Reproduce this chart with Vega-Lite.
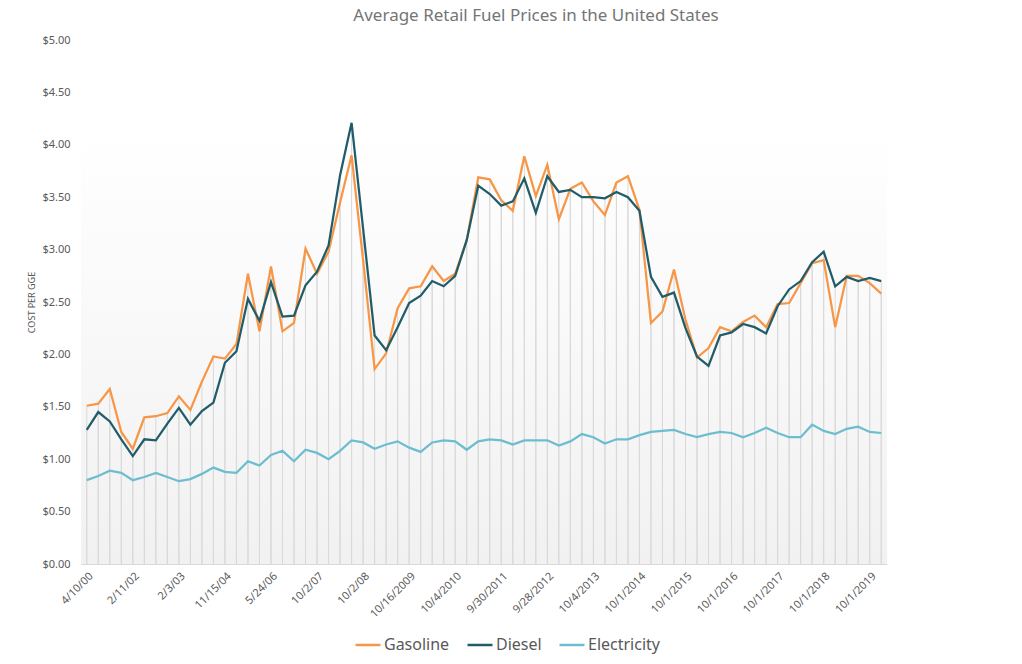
{
  "$schema": "https://vega.github.io/schema/vega-lite/v6.json",
  "width": 806,
  "height": 524,
  "autosize": {"type": "none"},
  "padding": {"left": 81, "top": 40, "right": 135, "bottom": 100},
  "background": "white",
  "config": {
    "view": {"stroke": null},
    "font": "Noto Sans",
    "axisX": {"domain": true, "domainColor": "#D9D9D9", "domainWidth": 1, "ticks": false, "grid": false, "labelAngle": -45, "labelFontSize": 11, "labelColor": "#595959", "labelPadding": 6, "labelAlign": "right", "labelBaseline": "top", "labelOverlap": false},
    "axisY": {"domain": false, "ticks": false, "tickSize": 0, "grid": false, "labelPadding": 11, "labelFontSize": 11, "labelColor": "#595959", "titleFontSize": 9, "titleFontWeight": "normal", "titleColor": "#595959", "titlePadding": 5}
  },
  "title": {"text": "Average Retail Fuel Prices in the United States", "fontSize": 17, "fontWeight": "normal", "color": "#757575", "anchor": "middle", "dx": 52, "offset": 9, "font": "Noto Sans"},
  "data": {"values": [
    {"date": "4/10/00", "Gasoline": 1.51, "Diesel": 1.28, "Electricity": 0.80},
    {"date": "7/24/00", "Gasoline": 1.53, "Diesel": 1.45, "Electricity": 0.84},
    {"date": "3/26/01", "Gasoline": 1.67, "Diesel": 1.36, "Electricity": 0.89},
    {"date": "9/24/01", "Gasoline": 1.26, "Diesel": 1.19, "Electricity": 0.87},
    {"date": "2/11/02", "Gasoline": 1.10, "Diesel": 1.03, "Electricity": 0.80},
    {"date": "5/6/02", "Gasoline": 1.40, "Diesel": 1.19, "Electricity": 0.83},
    {"date": "8/19/02", "Gasoline": 1.41, "Diesel": 1.18, "Electricity": 0.87},
    {"date": "11/4/02", "Gasoline": 1.44, "Diesel": 1.34, "Electricity": 0.83},
    {"date": "2/3/03", "Gasoline": 1.60, "Diesel": 1.49, "Electricity": 0.79},
    {"date": "6/2/03", "Gasoline": 1.47, "Diesel": 1.33, "Electricity": 0.81},
    {"date": "3/22/04", "Gasoline": 1.74, "Diesel": 1.46, "Electricity": 0.86},
    {"date": "7/12/04", "Gasoline": 1.98, "Diesel": 1.54, "Electricity": 0.92},
    {"date": "11/15/04", "Gasoline": 1.96, "Diesel": 1.92, "Electricity": 0.88},
    {"date": "3/1/05", "Gasoline": 2.10, "Diesel": 2.03, "Electricity": 0.87},
    {"date": "9/19/05", "Gasoline": 2.77, "Diesel": 2.53, "Electricity": 0.98},
    {"date": "2/6/06", "Gasoline": 2.22, "Diesel": 2.32, "Electricity": 0.94},
    {"date": "5/24/06", "Gasoline": 2.84, "Diesel": 2.69, "Electricity": 1.04},
    {"date": "9/11/06", "Gasoline": 2.22, "Diesel": 2.36, "Electricity": 1.08},
    {"date": "1/16/07", "Gasoline": 2.30, "Diesel": 2.37, "Electricity": 0.98},
    {"date": "7/10/07", "Gasoline": 3.01, "Diesel": 2.66, "Electricity": 1.09},
    {"date": "10/2/07", "Gasoline": 2.77, "Diesel": 2.79, "Electricity": 1.06},
    {"date": "1/7/08", "Gasoline": 2.98, "Diesel": 3.04, "Electricity": 1.00},
    {"date": "4/7/08", "Gasoline": 3.45, "Diesel": 3.71, "Electricity": 1.08},
    {"date": "7/7/08", "Gasoline": 3.90, "Diesel": 4.21, "Electricity": 1.18},
    {"date": "10/2/08", "Gasoline": 2.90, "Diesel": 3.20, "Electricity": 1.16},
    {"date": "1/5/09", "Gasoline": 1.86, "Diesel": 2.18, "Electricity": 1.10},
    {"date": "4/6/09", "Gasoline": 2.01, "Diesel": 2.04, "Electricity": 1.14},
    {"date": "7/6/09", "Gasoline": 2.44, "Diesel": 2.26, "Electricity": 1.17},
    {"date": "10/16/2009", "Gasoline": 2.63, "Diesel": 2.49, "Electricity": 1.11},
    {"date": "1/4/2010", "Gasoline": 2.65, "Diesel": 2.56, "Electricity": 1.07},
    {"date": "4/5/2010", "Gasoline": 2.84, "Diesel": 2.70, "Electricity": 1.16},
    {"date": "7/6/2010", "Gasoline": 2.70, "Diesel": 2.65, "Electricity": 1.18},
    {"date": "10/4/2010", "Gasoline": 2.77, "Diesel": 2.75, "Electricity": 1.17},
    {"date": "1/3/2011", "Gasoline": 3.09, "Diesel": 3.09, "Electricity": 1.09},
    {"date": "4/4/2011", "Gasoline": 3.69, "Diesel": 3.61, "Electricity": 1.17},
    {"date": "7/5/2011", "Gasoline": 3.67, "Diesel": 3.53, "Electricity": 1.19},
    {"date": "9/30/2011", "Gasoline": 3.47, "Diesel": 3.42, "Electricity": 1.18},
    {"date": "1/3/2012", "Gasoline": 3.37, "Diesel": 3.46, "Electricity": 1.14},
    {"date": "4/2/2012", "Gasoline": 3.89, "Diesel": 3.68, "Electricity": 1.18},
    {"date": "7/2/2012", "Gasoline": 3.51, "Diesel": 3.35, "Electricity": 1.18},
    {"date": "9/28/2012", "Gasoline": 3.81, "Diesel": 3.70, "Electricity": 1.18},
    {"date": "1/7/2013", "Gasoline": 3.29, "Diesel": 3.55, "Electricity": 1.13},
    {"date": "4/1/2013", "Gasoline": 3.58, "Diesel": 3.57, "Electricity": 1.17},
    {"date": "7/1/2013", "Gasoline": 3.64, "Diesel": 3.50, "Electricity": 1.24},
    {"date": "10/4/2013", "Gasoline": 3.46, "Diesel": 3.50, "Electricity": 1.21},
    {"date": "1/6/2014", "Gasoline": 3.33, "Diesel": 3.49, "Electricity": 1.15},
    {"date": "4/1/2014", "Gasoline": 3.64, "Diesel": 3.55, "Electricity": 1.19},
    {"date": "7/1/2014", "Gasoline": 3.70, "Diesel": 3.50, "Electricity": 1.19},
    {"date": "10/1/2014", "Gasoline": 3.38, "Diesel": 3.37, "Electricity": 1.23},
    {"date": "1/5/2015", "Gasoline": 2.30, "Diesel": 2.74, "Electricity": 1.26},
    {"date": "4/1/2015", "Gasoline": 2.41, "Diesel": 2.55, "Electricity": 1.27},
    {"date": "7/1/2015", "Gasoline": 2.81, "Diesel": 2.59, "Electricity": 1.28},
    {"date": "10/1/2015", "Gasoline": 2.33, "Diesel": 2.25, "Electricity": 1.24},
    {"date": "1/4/2016", "Gasoline": 1.97, "Diesel": 1.98, "Electricity": 1.21},
    {"date": "4/1/2016", "Gasoline": 2.06, "Diesel": 1.89, "Electricity": 1.24},
    {"date": "7/1/2016", "Gasoline": 2.26, "Diesel": 2.18, "Electricity": 1.26},
    {"date": "10/1/2016", "Gasoline": 2.22, "Diesel": 2.21, "Electricity": 1.25},
    {"date": "1/3/2017", "Gasoline": 2.31, "Diesel": 2.29, "Electricity": 1.21},
    {"date": "4/1/2017", "Gasoline": 2.37, "Diesel": 2.26, "Electricity": 1.25},
    {"date": "7/1/2017", "Gasoline": 2.26, "Diesel": 2.20, "Electricity": 1.30},
    {"date": "10/1/2017", "Gasoline": 2.48, "Diesel": 2.46, "Electricity": 1.25},
    {"date": "1/2/2018", "Gasoline": 2.49, "Diesel": 2.62, "Electricity": 1.21},
    {"date": "4/1/2018", "Gasoline": 2.68, "Diesel": 2.70, "Electricity": 1.21},
    {"date": "7/1/2018", "Gasoline": 2.87, "Diesel": 2.88, "Electricity": 1.33},
    {"date": "10/1/2018", "Gasoline": 2.90, "Diesel": 2.98, "Electricity": 1.27},
    {"date": "1/2/2019", "Gasoline": 2.26, "Diesel": 2.65, "Electricity": 1.24},
    {"date": "4/1/2019", "Gasoline": 2.75, "Diesel": 2.74, "Electricity": 1.29},
    {"date": "7/1/2019", "Gasoline": 2.75, "Diesel": 2.70, "Electricity": 1.31},
    {"date": "10/1/2019", "Gasoline": 2.68, "Diesel": 2.73, "Electricity": 1.26},
    {"date": "1/2/2020", "Gasoline": 2.58, "Diesel": 2.70, "Electricity": 1.25}
  ]},
  "encoding": {
    "x": {"field": "date", "type": "ordinal", "sort": null, "title": null,
      "scale": {"type": "point", "padding": 0.5},
      "axis": {"values": ["4/10/00", "2/11/02", "2/3/03", "11/15/04", "5/24/06", "10/2/07", "10/2/08", "10/16/2009", "10/4/2010", "9/30/2011", "9/28/2012", "10/4/2013", "10/1/2014", "10/1/2015", "10/1/2016", "10/1/2017", "10/1/2018", "10/1/2019"]}}
  },
  "layer": [
    {
      "data": {"values": [{"band": "plot"}]},
      "mark": {"type": "rect", "fill": {"gradient": "linear", "x1": 0, "y1": 0, "x2": 0, "y2": 1, "stops": [{"offset": 0, "color": "#FFFFFF"}, {"offset": 1, "color": "#F1F1F1"}]}},
      "encoding": {
        "x": {"value": 0},
        "x2": {"value": "width"},
        "y": {"datum": 4.15, "type": "quantitative", "title": "COST PER GGE", "scale": {"domain": [0, 5], "nice": false}, "axis": {"values": [0, 0.5, 1, 1.5, 2, 2.5, 3, 3.5, 4, 4.5, 5], "format": "$.2f"}},
        "y2": {"datum": 0}
      }
    },
    {
      "mark": {"type": "rule", "color": "#D9D9D9", "strokeWidth": 1},
      "encoding": {
        "y": {"field": "Gasoline", "type": "quantitative", "title": "COST PER GGE"},
        "y2": {"datum": 0}
      }
    },
    {
      "mark": {"type": "rule", "color": "#D9D9D9", "strokeWidth": 1},
      "encoding": {
        "y": {"field": "Diesel", "type": "quantitative", "title": "COST PER GGE"},
        "y2": {"datum": 0}
      }
    },
    {
      "mark": {"type": "line", "strokeWidth": 2.25},
      "encoding": {
        "y": {"field": "Gasoline", "type": "quantitative", "title": "COST PER GGE"},
        "color": {"datum": "Gasoline", "type": "nominal",
          "scale": {"domain": ["Gasoline", "Diesel", "Electricity"], "range": ["#F79646", "#215C6A", "#6DBDD1"]},
          "legend": {"orient": "none", "legendX": 273, "legendY": 591, "direction": "horizontal", "title": null, "symbolType": "stroke", "symbolSize": 625, "symbolStrokeWidth": 2.5, "labelFontSize": 16, "labelColor": "#595959", "columnPadding": 12, "labelOffset": 2}}
      }
    },
    {
      "mark": {"type": "line", "strokeWidth": 2.25},
      "encoding": {
        "y": {"field": "Diesel", "type": "quantitative", "title": "COST PER GGE"},
        "color": {"datum": "Diesel", "type": "nominal"}
      }
    },
    {
      "mark": {"type": "line", "strokeWidth": 2.25},
      "encoding": {
        "y": {"field": "Electricity", "type": "quantitative", "title": "COST PER GGE"},
        "color": {"datum": "Electricity", "type": "nominal"}
      }
    }
  ]
}
